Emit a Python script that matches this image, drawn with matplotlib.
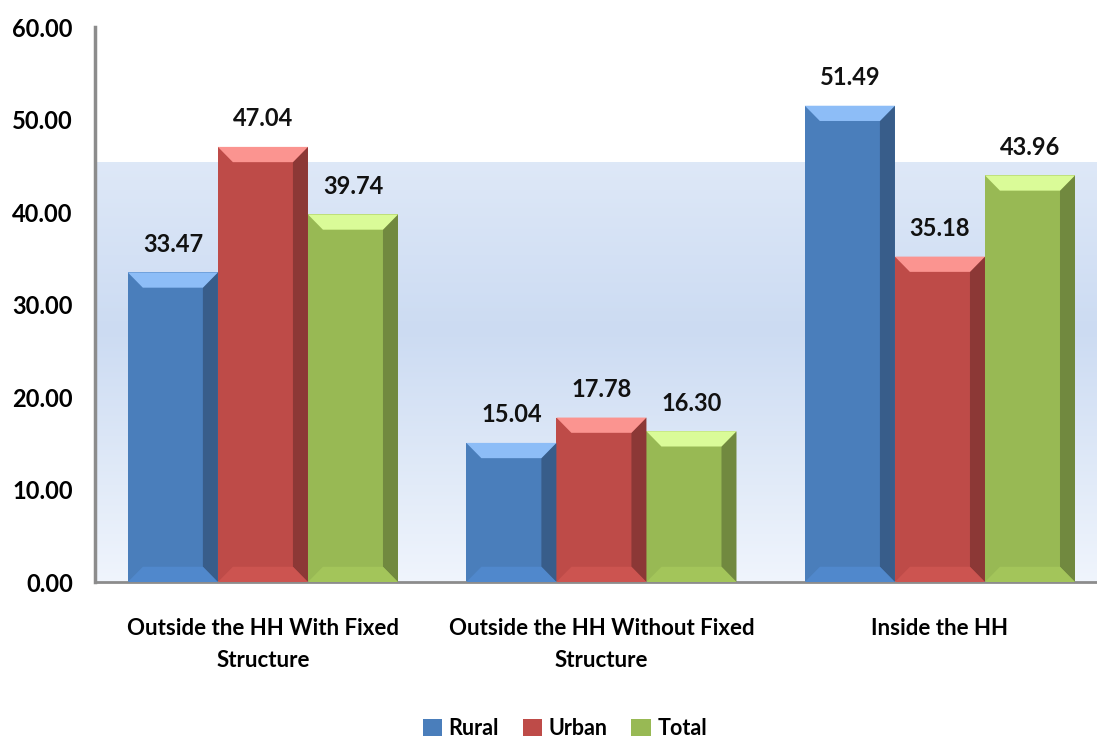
import numpy as np
import matplotlib.pyplot as plt
from matplotlib.patches import Polygon, Rectangle, Patch

plt.rcParams['font.family'] = ['Lato', 'DejaVu Sans']

# data
categories = ['Outside the HH With Fixed\nStructure',
              'Outside the HH Without Fixed\nStructure',
              'Inside the HH']
series = ['Rural', 'Urban', 'Total']
rural = [33.47, 15.04, 51.49]
urban = [47.04, 17.78, 35.18]
total = [39.74, 16.30, 43.96]
values = [rural, urban, total]

# face, right side, top bevel, bottom bevel
colors = [
    ('#4a7ebb', '#385d8a', '#8dbdf7', '#5088cc'),
    ('#be4b48', '#8c3836', '#fb9490', '#cc5450'),
    ('#98b954', '#71893f', '#dafb98', '#a3c55a'),
]

fig = plt.figure(figsize=(10.97, 7.42), dpi=100)
ax = fig.add_axes([0.0866, 0.2156, 0.9134, 0.748])
ax.set_xlim(-0.496, 2.464)
ax.set_ylim(0, 60)

# soft blue band behind the bars
c_bot = np.array([0.94, 0.96, 0.99])
c_mid = np.array([0.80, 0.86, 0.95])
c_top = np.array([0.87, 0.91, 0.97])
t = np.linspace(0, 1, 256)
img = np.zeros((256, 1, 3))
for i, v in enumerate(t):
    if v < 0.6:
        c = c_bot + (c_mid - c_bot) * (v / 0.6)
    else:
        c = c_mid + (c_top - c_mid) * ((v - 0.6) / 0.4)
    img[i, 0] = c
ax.imshow(img, extent=[-0.496, 2.464, 0, 45.3], origin='lower',
          aspect='auto', zorder=0)

x = np.arange(len(categories))
w = 0.266
bx = 15 / 338.5
by = 1.65

for s, vals in enumerate(values):
    face, side, top, bot = colors[s]
    for xi, h in zip(x + (s - 1) * w, vals):
        l, r = xi - w / 2, xi + w / 2
        ax.add_patch(Rectangle((l, 0), w, h, facecolor=face, lw=0, zorder=2))
        ax.add_patch(Polygon([(r - bx, by), (r, 0), (r, h), (r - bx, h - by)],
                             facecolor=side, lw=0, zorder=3))
        ax.add_patch(Polygon([(l, h), (r, h), (r - bx, h - by), (l + bx, h - by)],
                             facecolor=top, lw=0, zorder=3))
        ax.add_patch(Polygon([(l, 0), (r, 0), (r - bx, by), (l + bx, by)],
                             facecolor=bot, lw=0, zorder=3))
        ax.annotate(f'{h:.2f}', (xi, h), xytext=(0, 12), textcoords='offset points',
                    ha='center', va='bottom', fontsize=17, fontweight='bold',
                    color='#111111', zorder=5)

ax.set_yticks(np.arange(0, 61, 10))
ax.set_yticklabels([f'{v:.2f}' for v in np.arange(0, 61, 10)],
                   fontsize=17, fontweight='bold')
ax.set_xticks(x)
ax.set_xticklabels(categories, fontsize=16, fontweight='bold', linespacing=1.65)
ax.tick_params(axis='y', length=0, pad=16)
ax.tick_params(axis='x', length=0, pad=26)

for sp in ['top', 'right']:
    ax.spines[sp].set_visible(False)
ax.spines['left'].set_color('#8c8c8c')
ax.spines['left'].set_linewidth(2.5)
ax.spines['bottom'].set_color('#8c8c8c')
ax.spines['bottom'].set_linewidth(2)

handles = [Patch(facecolor=c[0], label=n) for c, n in zip(colors, series)]
fig.legend(handles=handles, loc='lower center', bbox_to_anchor=(0.515, -0.022),
           ncol=3, frameon=False, handlelength=0.9, handleheight=0.9,
           handletextpad=0.3, columnspacing=1.1, prop={'weight': 'bold', 'size': 15.5})

fig.savefig('out.png', dpi=100)
